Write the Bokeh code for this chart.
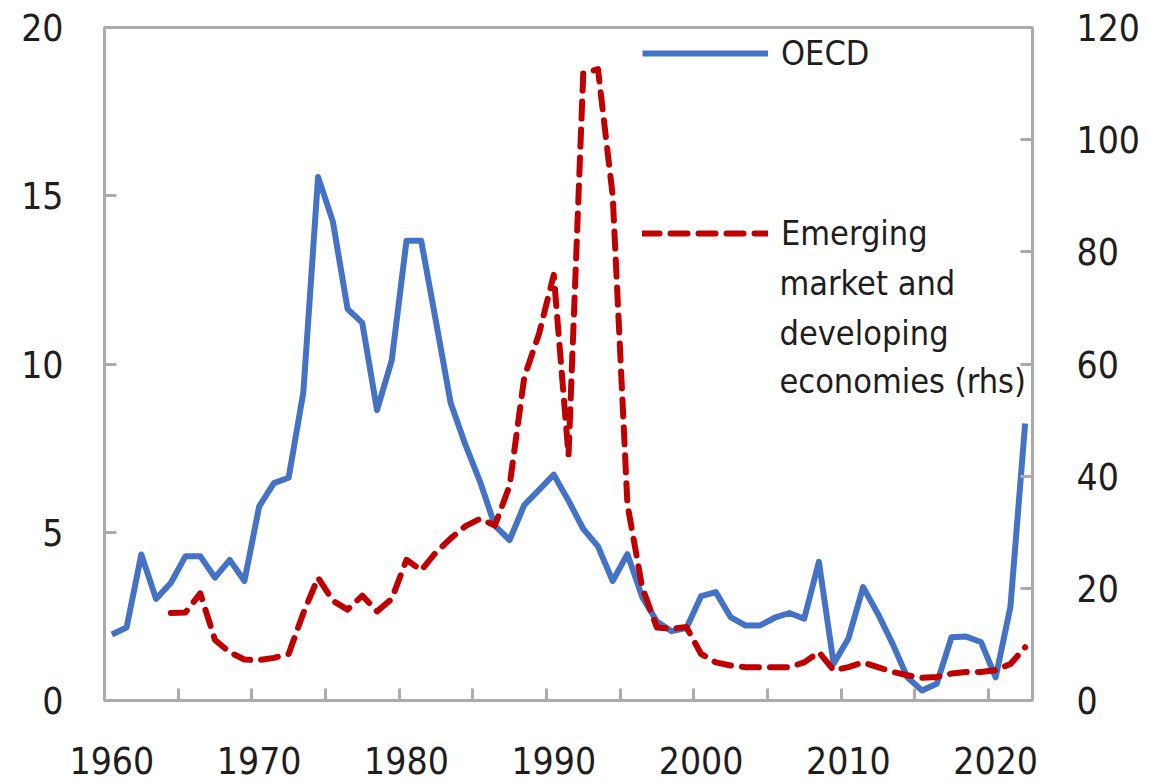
from bokeh.plotting import figure
from bokeh.models import LinearAxis, Range1d, FixedTicker, Legend, LegendItem, Label
from bokeh.embed import file_html
from bokeh.resources import INLINE

# ---- data ----
years = list(range(1960, 2023))
oecd = [1.96, 2.17, 4.34, 3.02, 3.49, 4.29, 4.29, 3.65, 4.18, 3.55,
        5.77, 6.46, 6.62, 9.16, 15.56, 14.24, 11.64, 11.22, 8.63, 10.11,
        13.66, 13.66, 11.27, 8.84, 7.60, 6.50, 5.20, 4.77, 5.81, 6.26,
        6.71, 5.94, 5.10, 4.58, 3.55, 4.35, 3.08, 2.35, 2.06, 2.15,
        3.10, 3.22, 2.48, 2.23, 2.23, 2.46, 2.60, 2.43, 4.12, 1.09,
        1.84, 3.37, 2.58, 1.69, 0.69, 0.30, 0.50, 1.88, 1.90, 1.74,
        0.69, 2.78, 8.23]
emde_years = list(range(1964, 2023))
emde = [15.6, 15.7, 19.1, 10.8, 8.6, 7.3,
        7.2, 7.6, 8.3, 15.6, 21.9, 17.8, 16.2, 18.7, 15.9, 18.1,
        25.1, 23.2, 26.4, 28.9, 31.1, 32.4, 31.2, 38.3, 57.7, 65.4,
        75.9, 43.7, 111.8, 112.6, 90.0, 35.0, 20.2, 13.0, 12.8, 13.1,
        8.3, 6.8, 6.25, 5.95, 5.95, 5.95, 5.95, 6.8, 8.6, 5.4,
        5.95, 6.8, 5.95, 5.1, 4.5, 4.05, 4.2, 4.8, 5.1, 5.1,
        5.4, 6.5, 9.5]
x_label_years = [1960, 1970, 1980, 1990, 2000, 2010, 2020]
x_minor_ticks = [1964.5 + 5 * k for k in range(12)]
left_ticks = [0, 5, 10, 15, 20]
right_ticks = [0, 20, 40, 60, 80, 100, 120]
legend_oecd = "OECD"
legend_emde = ["Emerging", "market and", "developing", "economies (rhs)"]

FONT = "DejaVu Sans Condensed, DejaVu Sans, sans-serif"
GRAY = "#ABABAB"
TXT = "#1E1E1E"
BLUE = "#4472C4"
RED = "#C00000"
TICK_FS = "37px"
LEG_FS = "34px"

p = figure(width=1164, height=783, x_range=Range1d(1959.5, 2022.5),
           y_range=Range1d(0, 20), output_backend="svg", toolbar_location=None,
           min_border_left=104, min_border_right=132, min_border_top=27,
           min_border_bottom=83)
p.extra_y_ranges = {"r": Range1d(0, 120)}
p.xgrid.visible = False
p.ygrid.visible = False
p.outline_line_color = GRAY
p.outline_line_width = 3
p.background_fill_color = "white"
p.border_fill_color = "white"

# bottom axis
xa = p.xaxis[0]
xa.ticker = FixedTicker(ticks=x_label_years, minor_ticks=x_minor_ticks)
xa.axis_line_color = None
xa.major_tick_line_color = None
xa.minor_tick_line_color = GRAY
xa.minor_tick_line_width = 3
xa.minor_tick_in = 12
xa.minor_tick_out = 0
xa.major_label_text_font = FONT
xa.major_label_text_font_size = TICK_FS
xa.major_label_text_color = TXT
xa.major_label_standoff = 40

# left axis
ya = p.yaxis[0]
ya.ticker = FixedTicker(ticks=left_ticks)
ya.axis_line_color = None
ya.major_tick_line_color = GRAY
ya.major_tick_line_width = 3
ya.major_tick_in = 12
ya.major_tick_out = 0
ya.minor_tick_line_color = None
ya.major_label_text_font = FONT
ya.major_label_text_font_size = TICK_FS
ya.major_label_text_color = TXT
ya.major_label_standoff = 41

# right axis
ra = LinearAxis(y_range_name="r", ticker=FixedTicker(ticks=right_ticks))
ra.axis_line_color = None
ra.major_tick_line_color = GRAY
ra.major_tick_line_width = 3
ra.major_tick_in = 12
ra.major_tick_out = 0
ra.minor_tick_line_color = None
ra.major_label_text_font = FONT
ra.major_label_text_font_size = TICK_FS
ra.major_label_text_color = TXT
ra.major_label_standoff = 44
p.add_layout(ra, "right")

r1 = p.line(years, oecd, line_color=BLUE, line_width=6, line_join="round")
r2 = p.line(emde_years, emde, y_range_name="r", line_color=RED, line_width=6,
            line_dash="17 11", line_cap="round", line_join="round")

def mk_legend(item, loc):
    lg = Legend(items=[item], location=loc, orientation="vertical",
                glyph_width=126, glyph_height=30, label_standoff=13,
                padding=0, margin=0, spacing=0,
                border_line_color=None, background_fill_alpha=0,
                label_text_font=FONT, label_text_font_size=LEG_FS,
                label_text_color=TXT)
    return lg

p.add_layout(mk_legend(LegendItem(label=legend_oecd, renderers=[r1]), (538, 627)))
p.add_layout(mk_legend(LegendItem(label=legend_emde[0], renderers=[r2]), (538, 447)))

for txt, yy in zip(legend_emde[1:], [418, 368, 320]):
    p.add_layout(Label(x=675, y=yy, x_units="screen", y_units="screen", text=txt,
                       text_font=FONT, text_font_size=LEG_FS, text_color=TXT,
                       text_baseline="alphabetic", text_align="left"))

open("out.html", "w").write(file_html(p, INLINE))
